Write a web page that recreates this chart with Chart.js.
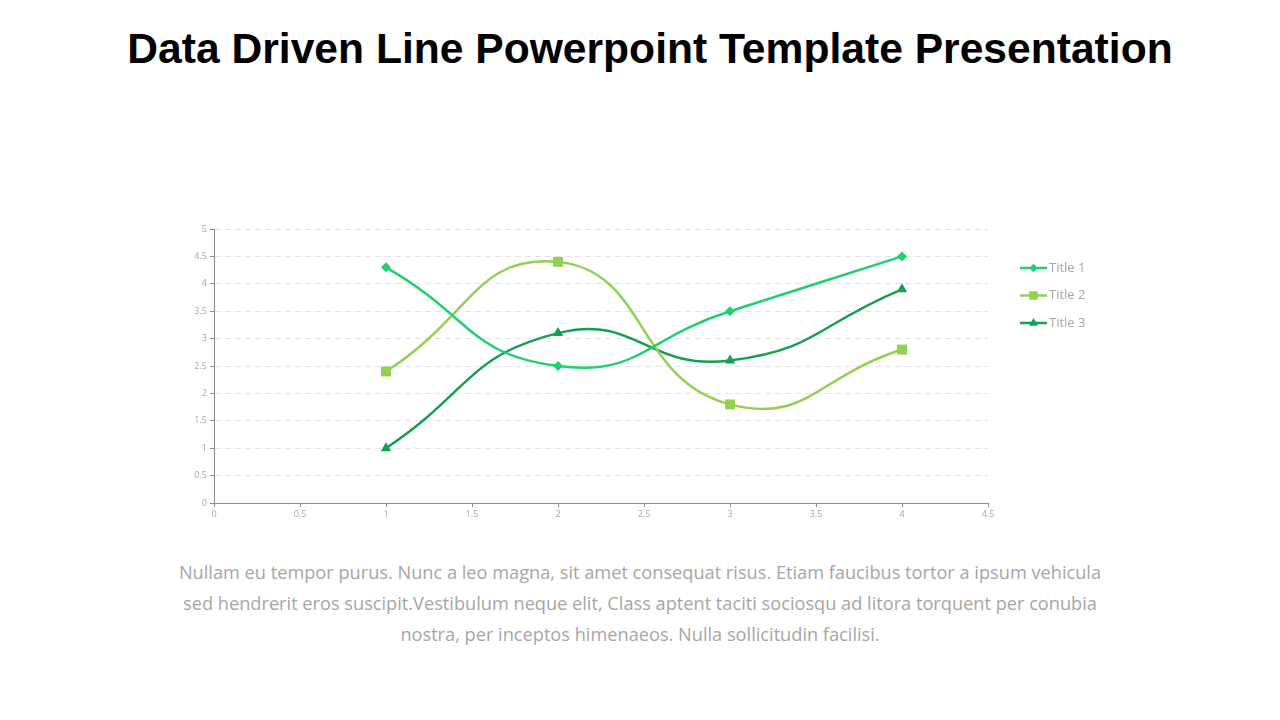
<!DOCTYPE html>
<html>
<head>
<meta charset="utf-8">
<script src="https://cdn.jsdelivr.net/npm/chart.js@4"></script>
<style>
  body { margin: 0; width: 1280px; height: 720px; background: #fff; position: relative; overflow: hidden; }
  h1 { position: absolute; top: 24px; left: 0; width: 1300px; margin: 0; text-align: center;
       font: bold 42.6px "Liberation Sans", Arial, sans-serif; color: #000; }
  #wrap { position: absolute; left: 180px; top: 215px; width: 930px; height: 315px; }
  p { position: absolute; top: 557px; left: 140px; width: 1000px; margin: 0; text-align: center;
      font: 18.2px/31px "Open Sans", sans-serif; color: #a6a6a6; white-space: nowrap; }
</style>
</head>
<body>
<h1>Data Driven Line Powerpoint Template Presentation</h1>
<div id="wrap"><canvas id="chart"></canvas></div>
<p>Nullam eu tempor purus. Nunc a leo magna, sit amet consequat risus. Etiam faucibus tortor a ipsum vehicula<br>sed hendrerit eros suscipit.Vestibulum neque elit, Class aptent taciti sociosqu ad litora torquent per conubia<br>nostra, per inceptos himenaeos. Nulla sollicitudin facilisi.</p>
<script>
const xValues = [1, 2, 3, 4]
const title1 = [4.3, 2.5, 3.5, 4.5]
const title2 = [2.4, 4.4, 1.8, 2.8]
const title3 = [1.0, 3.1, 2.6, 3.9]
const seriesNames = ['Title 1', 'Title 2', 'Title 3']
const colors = ['#22cf6e', '#92d050', '#14a04f']
const markers = ['rectRot', 'rect', 'triangle']
const markerRadius = [5, 7, 6]

const toPoints = (vals) => vals.map((v, i) => ({x: xValues[i], y: v}))

const makeSet = (name, vals, i) => ({
  label: name,
  data: toPoints(vals),
  showLine: true,
  borderColor: colors[i],
  backgroundColor: colors[i],
  borderWidth: 2.5,
  tension: 0.5,
  pointStyle: markers[i],
  pointRadius: markerRadius[i],
  pointBorderWidth: 0
})

// legend on the right: short line with the marker in the middle
const legendPlugin = {
  id: 'sideLegend',
  afterDraw(chart) {
    const ctx = chart.ctx
    const area = chart.chartArea
    const x0 = area.right + 32
    chart.data.datasets.forEach((ds, i) => {
      const y = area.top + 39 + i * 27.5
      ctx.save()
      ctx.strokeStyle = ds.borderColor
      ctx.lineWidth = 2.5
      ctx.beginPath()
      ctx.moveTo(x0, y)
      ctx.lineTo(x0 + 27, y)
      ctx.stroke()
      ctx.fillStyle = ds.borderColor
      Chart.helpers.drawPoint(ctx, {pointStyle: ds.pointStyle, radius: ds.pointRadius * 0.8, rotation: 0, borderWidth: 0}, x0 + 13.5, y)
      ctx.fill()
      ctx.fillStyle = '#a6a6a6'
      ctx.font = '13px "Open Sans", sans-serif'
      ctx.textBaseline = 'middle'
      ctx.fillText(ds.label, x0 + 29, y)
      ctx.restore()
    })
  }
}

const tickFont = {family: '"Open Sans", sans-serif', size: 9}
const plainNum = (v) => String(v)

new Chart(document.querySelector('#chart'), {
  type: 'scatter',
  data: {
    datasets: [
      makeSet(seriesNames[0], title1, 0),
      makeSet(seriesNames[1], title2, 1),
      makeSet(seriesNames[2], title3, 2)
    ]
  },
  options: {
    responsive: true,
    maintainAspectRatio: false,
    animation: false,
    layout: {padding: {top: 14, right: 122, left: 0, bottom: 0}},
    plugins: {legend: {display: false}, tooltip: {enabled: false}},
    scales: {
      x: {
        type: 'linear', min: 0, max: 4.5,
        ticks: {stepSize: 0.5, color: '#a6a6a6', font: tickFont, padding: 2, maxRotation: 0, callback: plainNum},
        grid: {drawOnChartArea: false, tickLength: 4, tickColor: '#8c8c8c'},
        border: {color: '#8c8c8c', width: 1},
        afterFit: (s) => { s.height = 27 }
      },
      y: {
        min: 0, max: 5,
        ticks: {stepSize: 0.5, color: '#a6a6a6', font: tickFont, padding: 3, callback: plainNum},
        grid: {color: '#e3e3e3', tickLength: 4, tickColor: '#8c8c8c', tickBorderDash: [0, 0]},
        border: {color: '#8c8c8c', width: 1, dash: [6, 4]},
        afterFit: (s) => { s.width = 34 }
      }
    }
  },
  plugins: [legendPlugin]
})
</script>
</body>
</html>
